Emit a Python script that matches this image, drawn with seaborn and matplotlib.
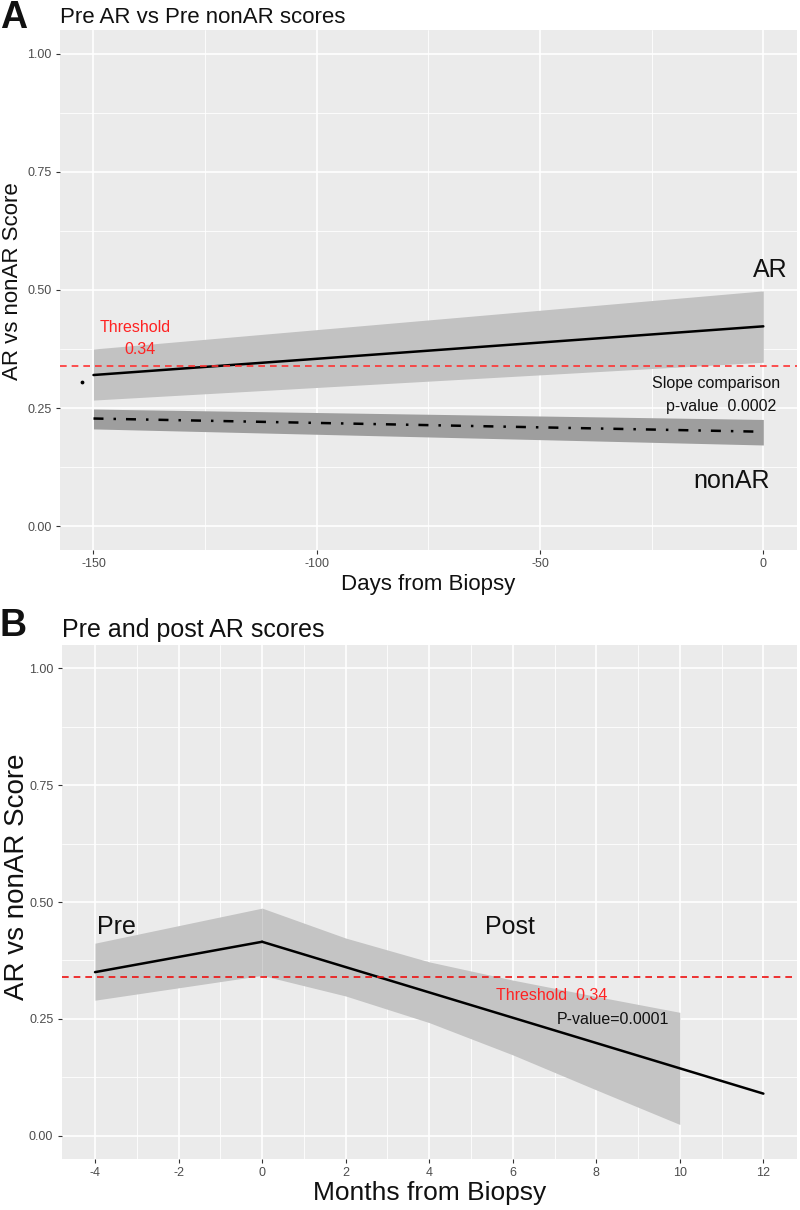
import numpy as np
import pandas as pd
import seaborn as sns
import matplotlib.pyplot as plt

# Panel A: pre-biopsy AR vs nonAR fitted scores (days from biopsy)
days = [-150, 0]
ar_fit = [0.320, 0.423]
ar_lo = [0.267, 0.347]
ar_hi = [0.375, 0.498]
nonar_fit = [0.228, 0.200]
nonar_lo = [0.206, 0.172]
nonar_hi = [0.248, 0.226]
stray_day = [-152.5]
stray_score = [0.305]

# Panel B: pre and post AR scores (months from biopsy)
pre_months = [-4, 0]
pre_fit = [0.350, 0.415]
pre_lo = [0.290, 0.343]
pre_hi = [0.412, 0.487]
post_months = [0, 12]
post_fit = [0.415, 0.090]
band_months = [0, 2, 4, 6, 8, 10]
post_lo = [0.343, 0.299, 0.242, 0.173, 0.098, 0.024]
post_hi = [0.487, 0.423, 0.372, 0.333, 0.298, 0.264]

threshold = 0.34

sns.set_theme(style="darkgrid", rc={
    "axes.facecolor": "#EBEBEB",
    "grid.color": "white",
    "xtick.bottom": True, "ytick.left": True,
    "xtick.color": "#333333", "ytick.color": "#333333",
    "xtick.major.size": 3, "ytick.major.size": 3,
    "text.color": "#111111", "axes.labelcolor": "#111111",
    "axes.unicode_minus": False,
})
plt.rcParams['font.family'] = ['Liberation Sans', 'DejaVu Sans']

fig = plt.figure(figsize=(8, 12.1), dpi=100)
ax1 = fig.add_axes([0.075, 0.5455, 0.921, 0.4298])
ax2 = fig.add_axes([0.077, 0.0421, 0.919, 0.4248])


def style_axis(ax, major_x, minor_x, xlim, tick_size):
    ax.set_xlim(*xlim)
    ax.set_ylim(-0.05, 1.05)
    ax.set_xticks(major_x)
    ax.set_xticks(minor_x, minor=True)
    ax.set_yticks([0, 0.25, 0.5, 0.75, 1.0])
    ax.set_yticks([0.125, 0.375, 0.625, 0.875], minor=True)
    ax.set_yticklabels(["0.00", "0.25", "0.50", "0.75", "1.00"])
    ax.grid(which="major", color="white", linewidth=1.2)
    ax.grid(which="minor", color="white", linewidth=0.6)
    ax.tick_params(axis="both", which="major", labelsize=tick_size, labelcolor="#4D4D4D",
                   length=3, width=0.8, color="#333333", pad=3)
    ax.tick_params(which="minor", length=0)
    for s in ax.spines.values():
        s.set_visible(False)


# ---- Panel A ----
style_axis(ax1, [-150, -100, -50, 0], [-125, -75, -25], (-157.5, 7.5), 9)
ax1.fill_between(days, ar_lo, ar_hi, color="#C2C2C2", linewidth=0, zorder=2)
ax1.fill_between(days, nonar_lo, nonar_hi, color="#9E9E9E", linewidth=0, zorder=2)
df_a = pd.DataFrame({"day": days + days,
                     "score": ar_fit + nonar_fit,
                     "group": ["AR"] * 2 + ["nonAR"] * 2})
sns.lineplot(data=df_a, x="day", y="score", hue="group", style="group",
             palette={"AR": "black", "nonAR": "black"},
             dashes={"AR": "", "nonAR": (4, 4, 1, 4)},
             linewidth=1.8, legend=False, ax=ax1, zorder=3)
ax1.scatter(stray_day, stray_score, s=3, color="black", zorder=3)
ax1.axhline(threshold, color="#FF3333", linestyle=(0, (4, 3)), linewidth=1.2, zorder=4)
ax1.text(-140.6, 0.421, "Threshold", color="#FF2222", fontsize=11.5, ha="center", va="center")
ax1.text(-139.5, 0.373, "0.34", color="#FF2222", fontsize=11.5, ha="center", va="center")
ax1.text(1.5, 0.543, "AR", fontsize=18, ha="center", va="center")
ax1.text(-10.5, 0.301, "Slope comparison", fontsize=11.5, ha="center", va="center")
ax1.text(-9.4, 0.253, "p-value  0.0002", fontsize=11.5, ha="center", va="center")
ax1.text(-7.1, 0.095, "nonAR", fontsize=18, ha="center", va="center")
ax1.set_xlabel("Days from Biopsy", fontsize=16, labelpad=3)
ax1.set_ylabel("AR vs nonAR Score", fontsize=16)
ax1.yaxis.set_label_coords(-0.050, 0.517)
ax1.set_title("Pre AR vs Pre nonAR scores", loc="left", fontsize=16, pad=5)
fig.text(0.0, 0.985, "A", fontsize=27, fontweight="bold", va="center")

# ---- Panel B ----
style_axis(ax2, list(range(-4, 13, 2)), list(range(-3, 13, 2)), (-4.8, 12.8), 9)
ax2.fill_between(pre_months, pre_lo, pre_hi, color="#C4C4C4", linewidth=0, zorder=2)
ax2.fill_between(band_months, post_lo, post_hi, color="#C4C4C4", linewidth=0, zorder=2)
df_b = pd.DataFrame({"month": pre_months + post_months,
                     "score": pre_fit + post_fit,
                     "phase": ["Pre"] * 2 + ["Post"] * 2})
sns.lineplot(data=df_b, x="month", y="score", units="phase", estimator=None,
             color="black", linewidth=1.8, ax=ax2, zorder=3)
ax2.axhline(threshold, color="#EE1111", linestyle=(0, (4, 3)), linewidth=1.2, zorder=4)
ax2.text(-3.95, 0.447, "Pre", fontsize=18, ha="left", va="center")
ax2.text(5.93, 0.447, "Post", fontsize=18, ha="center", va="center")
ax2.text(6.93, 0.299, "Threshold  0.34", color="#FF2222", fontsize=11.5, ha="center", va="center")
ax2.text(8.4, 0.248, "P-value=0.0001", fontsize=11.5, ha="center", va="center")
ax2.set_xlabel("Months from Biopsy", fontsize=19, labelpad=1)
ax2.set_ylabel("AR vs nonAR Score", fontsize=20)
ax2.yaxis.set_label_coords(-0.043, 0.549)
ax2.set_title("Pre and post AR scores", loc="left", fontsize=18, pad=6)
fig.text(0.0, 0.483, "B", fontsize=27, fontweight="bold", va="center")

fig.savefig("out.png", dpi=100)
